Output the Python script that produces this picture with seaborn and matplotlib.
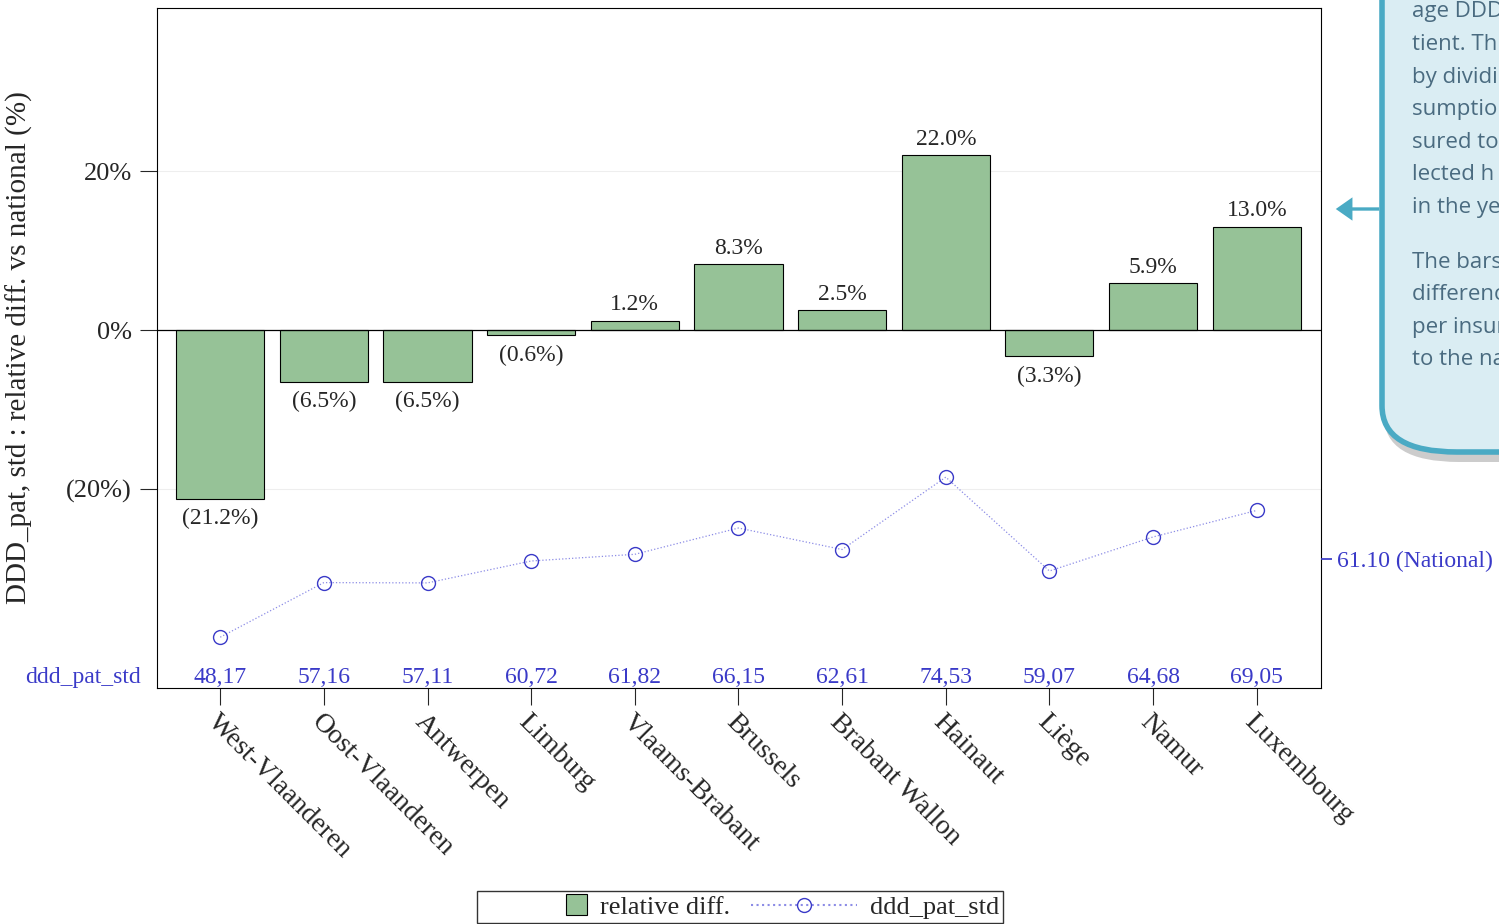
import numpy as np
import pandas as pd
import matplotlib
matplotlib.use("Agg")
import matplotlib.pyplot as plt
from matplotlib.patches import FancyBboxPatch, Rectangle
from matplotlib.legend_handler import HandlerPatch
import seaborn as sns

regions = ["West-Vlaanderen", "Oost-Vlaanderen", "Antwerpen", "Limburg", "Vlaams-Brabant",
           "Brussels", "Brabant Wallon", "Hainaut", "Liège", "Namur", "Luxembourg"]
rel_diff = [-21.2, -6.5, -6.5, -0.6, 1.2, 8.3, 2.5, 22.0, -3.3, 5.9, 13.0]
ddd_pat_std = [48.17, 57.16, 57.11, 60.72, 61.82, 66.15, 62.61, 74.53, 59.07, 64.68, 69.05]
national = 61.10

sns.set_theme(style="white")
plt.rcParams["font.family"] = ["Liberation Serif", "DejaVu Serif"]

df = pd.DataFrame({"region": regions, "rel": rel_diff, "ddd": ddd_pat_std})
blue = "#3a3ac8"
green = "#96c297"

fig = plt.figure(figsize=(14.99, 9.24), dpi=100)
ax = fig.add_axes([157 / 1499, 1 - 688 / 924, (1321 - 157) / 1499, (688 - 8) / 924])
sns.barplot(data=df, x="region", y="rel", color=green, edgecolor="black", linewidth=0.8,
            width=0.85, saturation=1, ax=ax)
ax.set_xlim(-0.61, 10.62)
ax.set_ylim(-45, 40.5)
ax.axhline(0, color="black", lw=0.9)
for v in (-20, 20):
    ax.axhline(v, color="#eeeeee", lw=0.8, zorder=0)
ax.set_yticks([-20, 0, 20])
ax.set_yticklabels(["(20%)", "0%", "20%"], fontsize=19)
ax.tick_params(axis="y", left=True, length=12, width=0.8, direction="out", pad=6)
ax.tick_params(axis="x", bottom=True, length=12, width=0.8, direction="out")
ax.set_xlabel("")
ax.set_ylabel("DDD_pat, std : relative diff. vs national (%)", fontsize=21, labelpad=24)
ax.set_xticks(range(len(regions)))
ax.set_xticklabels(regions, rotation=-45, ha="left", va="top", rotation_mode="anchor", fontsize=20)
for s in ax.spines.values():
    s.set_color("black")
    s.set_linewidth(0.8)

for i, v in enumerate(rel_diff):
    lab = f"{v:.1f}%" if v >= 0 else f"({-v:.1f}%)"
    ax.text(i, v + (0.7 if v >= 0 else -1.2), lab, ha="center", va="bottom" if v >= 0 else "top",
            fontsize=17)
    ax.text(i, -45, f"{ddd_pat_std[i]:.2f}".replace(".", ","), ha="center", va="bottom",
            fontsize=17, color=blue)
ax.text(-0.77, -45, "ddd_pat_std", ha="right", va="bottom", fontsize=17, color=blue)

ax2 = ax.twinx()
sns.lineplot(x=np.arange(len(regions)), y=ddd_pat_std, ax=ax2, color="#8c8ce6", lw=0.9,
             linestyle=":", marker="o", markersize=10, markerfacecolor="none",
             markeredgecolor=blue, markeredgewidth=1)
ax2.set_ylim(39.8, 151.8)
ax2.set_yticks([national])
ax2.set_yticklabels([f"{national:.2f} (National)"], fontsize=17, color=blue)
ax2.tick_params(axis="y", right=True, length=8, color=blue)
for s in ax2.spines.values():
    s.set_visible(False)


def small_square(legend, orig_handle, xdescent, ydescent, width, height, fontsize):
    # square on the right end of the handle box, next to its text
    side = height * 1.1
    return Rectangle((width - side - xdescent, -ydescent - 0.05 * height), side, side)


h1 = Rectangle((0, 0), 1, 1, facecolor=green, edgecolor="black", lw=0.8)
h2 = plt.Line2D([], [], color="#8c8ce6", ls=":", marker="o", markerfacecolor="none",
                markeredgecolor=blue, markersize=10)
fig.legend([h1, h2], ["relative diff.", "ddd_pat_std"], loc="center", ncol=2,
           bbox_to_anchor=(740 / 1499, 1 - 907 / 924), fontsize=19, frameon=True,
           edgecolor="black", fancybox=False, handlelength=4,
           handler_map={Rectangle: HandlerPatch(patch_func=small_square)},
           borderpad=0.15, borderaxespad=0, columnspacing=0.8, handletextpad=0.5)
leg = fig.legends[0]
leg._legend_box.set_offset  # keep default placement

# callout box on the right
box = FancyBboxPatch((1382 / 1499, 1 - 452 / 924), 0.2, 0.6, boxstyle="round,pad=0,rounding_size=0.05",
                     transform=fig.transFigure, facecolor="#daedf3", edgecolor="#4aaac4", lw=4,
                     clip_on=False)
fig.patches.append(box)
fig.patches.append(FancyBboxPatch((1384 / 1499, 1 - 462 / 924), 0.2, 0.6,
                                  boxstyle="round,pad=0,rounding_size=0.05", transform=fig.transFigure,
                                  facecolor="#cccccc", edgecolor="none", zorder=-1))
ax.annotate("", xy=(1333 / 1499, 1 - 209 / 924), xytext=(1382 / 1499, 1 - 209 / 924),
            xycoords="figure fraction", textcoords="figure fraction",
            arrowprops=dict(arrowstyle="simple,head_width=1.4,head_length=1", color="#4aaac4", lw=0))
lines = ["age DDD per pa", "tient. This is", "by dividing co", "sumption by", "sured to the", "lected h",
         "in the year", "", "The bars show", "difference in", "per insured", "to the national"]
for k, t in enumerate(lines):
    y = 12 + k * 32.5 if k < 7 else 12 + k * 32.5 - 10
    fig.text(1412 / 1499, 1 - y / 924, t, fontsize=16, color="#4a6b80",
             family=["Open Sans", "DejaVu Sans"], va="center")

fig.savefig("out.png", dpi=100)
